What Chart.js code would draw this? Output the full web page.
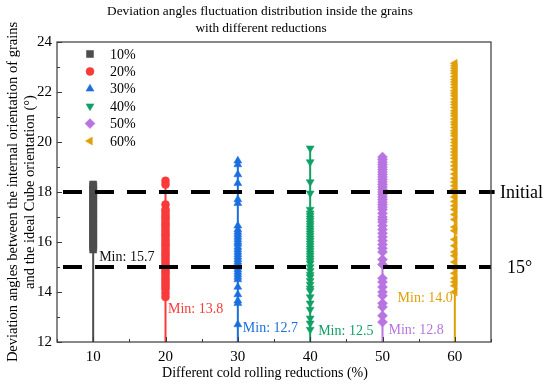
<!DOCTYPE html>
<html lang="en">
<head>
  <meta charset="UTF-8">
  <title>Deviation angles fluctuation distribution</title>
  <script src="https://cdn.jsdelivr.net/npm/chart.js"></script>
  <style>
    html, body { margin: 0; padding: 0; background: #fff; }
  </style>
</head>
<body>
  <canvas id="chart" width="550" height="386"></canvas>

  <script>
    // Cold rolling reductions (%) and the series shown at each one
    const reductions = [10, 20, 30, 40, 50, 60];
    const seriesLabels = ['10%', '20%', '30%', '40%', '50%', '60%'];

    // Deviation angles (deg), one list per reduction
    const dev10 = [18.3, 18.22, 18.1, 18.0, 17.92, 17.8, 17.7, 17.6, 17.5, 17.42, 17.3, 17.2, 17.1, 17.0,
      16.9, 16.8, 16.72, 16.6, 16.5, 16.4, 16.3, 16.2, 16.1, 16.0, 15.9, 15.8, 15.7];
    const dev20 = [18.45, 18.3, 17.5, 17.3, 17.22, 17.1, 17.0, 16.92, 16.8, 16.7, 16.62, 16.5, 16.4, 16.3,
      16.22, 16.1, 16.0, 15.9, 15.82, 15.7, 15.6, 15.5, 15.42, 15.3, 15.2, 15.1, 15.0, 14.9, 14.8, 14.72,
      14.6, 14.5, 14.4, 14.3, 14.2, 14.1, 13.95, 13.8];
    const dev30 = [19.25, 19.1, 18.7, 18.35, 17.7, 17.55, 16.65, 16.5, 16.4, 16.3, 16.2, 16.1, 16.0, 15.92,
      15.8, 15.7, 15.6, 15.5, 15.4, 15.3, 15.2, 15.1, 15.0, 14.9, 14.8, 14.7, 14.6, 14.5, 14.2, 13.9, 13.65,
      13.55, 12.7];
    const dev40 = [19.75, 19.2, 18.4, 17.95, 17.3, 17.15, 17.05, 16.95, 16.85, 16.75, 16.65, 16.55, 16.45,
      16.35, 16.25, 16.15, 16.05, 15.95, 15.85, 15.75, 15.65, 15.55, 15.45, 15.35, 15.25, 15.15, 15.0, 14.85,
      14.7, 14.6, 14.45, 14.3, 14.15, 14.05, 13.8, 13.55, 13.3, 12.95, 12.75, 12.5];
    const dev50 = [19.4, 19.3, 19.2, 19.1, 19.0, 18.9, 18.8, 18.7, 18.6, 18.5, 18.4, 18.3, 18.2, 18.1, 18.0,
      17.9, 17.8, 17.7, 17.6, 17.5, 17.4, 17.3, 17.15, 17.0, 16.9, 16.8, 16.65, 16.5, 16.35, 16.2, 16.05,
      15.9, 15.75, 15.6, 15.3, 15.1, 14.55, 14.4, 14.2, 14.0, 13.85, 13.55, 13.4, 13.05, 12.8];
    const dev60 = [23.15, 23.05, 22.95, 22.85, 22.75, 22.62, 22.5, 22.4, 22.3, 22.18, 22.05, 21.95, 21.85,
      21.72, 21.6, 21.5, 21.38, 21.25, 21.15, 21.05, 20.92, 20.8, 20.7, 20.58, 20.45, 20.35, 20.25, 20.1,
      19.98, 19.85, 19.72, 19.6, 19.48, 19.35, 19.2, 19.05, 18.9, 18.72, 18.55, 18.4, 18.25, 18.1, 17.95,
      17.8, 17.62, 17.45, 17.3, 17.1, 16.9, 16.6, 16.45, 16.1, 15.85, 15.6, 15.45, 15.2, 14.95, 14.75,
      14.55, 14.4, 14.25, 14.0];

    // Reference levels (deg)
    const initialAngle = 18;
    const thresholdAngle = 15;

    // Axis ranges and tick labels
    const xMin = 5, xMax = 65;
    const yMin = 12, yMax = 24;
    const xTickLabels = [10, 20, 30, 40, 50, 60];

    const series = [dev10, dev20, dev30, dev40, dev50, dev60];
    const colors = ['#4d4d4d', '#f83a3a', '#1a6fdf', '#10a066', '#b874e0', '#e09f08'];
    const styles = ['rect', 'circle', 'triangle', 'triangle', 'rectRot', 'triangle'];
    const rotations = [0, 0, 0, 180, 0, -90];
    const radii = [5, 4, 4.6, 4.6, 5, 4.6];

    const serif = '"Liberation Serif", "Times New Roman", serif';

    const datasets = [];

    // dashed reference lines, on top of everything
    datasets.push({
      type: 'line',
      data: [{ x: xMin, y: initialAngle }, { x: xMax + 0.5, y: initialAngle }],
      borderColor: '#000', borderWidth: 4, borderDash: [19, 13], borderDashOffset: 26,
      pointRadius: 0, clip: false, order: 0
    });
    datasets.push({
      type: 'line',
      data: [{ x: xMin, y: thresholdAngle }, { x: xMax, y: thresholdAngle }],
      borderColor: '#000', borderWidth: 4, borderDash: [19, 13], borderDashOffset: 26,
      pointRadius: 0, order: 0
    });

    series.forEach((vals, i) => {
      datasets.push({
        type: 'scatter',
        label: seriesLabels[i],
        data: vals.map(v => ({ x: reductions[i], y: v })),
        pointStyle: styles[i],
        pointRotation: rotations[i],
        pointRadius: radii[i],
        pointHoverRadius: radii[i],
        backgroundColor: colors[i],
        borderColor: colors[i],
        borderWidth: 0.5,
        order: 1
      });
      // drop line from the axis up to the largest value
      datasets.push({
        type: 'line',
        data: [{ x: reductions[i], y: yMin }, { x: reductions[i], y: Math.max(...vals) }],
        borderColor: colors[i], borderWidth: 2, pointRadius: 0, order: 2
      });
    });

    // min labels: pixel nudges from the min point
    const minLabelNudge = [
      { dx: 6, dy: 7.5, align: 'left' },
      { dx: 2.5, dy: 12, align: 'left' },
      { dx: 5, dy: 3.5, align: 'left' },
      { dx: 8, dy: 1.5, align: 'left' },
      { dx: 6, dy: 8, align: 'left' },
      { dx: -2, dy: 6, align: 'right' }
    ];

    const decorations = {
      id: 'decorations',
      afterDraw(chart) {
        const ctx = chart.ctx;
        const a = chart.chartArea;
        const xs = chart.scales.x, ys = chart.scales.y;
        ctx.save();

        // frame
        ctx.strokeStyle = '#3a3a3a';
        ctx.lineWidth = 1.2;
        ctx.strokeRect(a.left, a.top, a.right - a.left, a.bottom - a.top);

        // inward ticks
        ctx.lineWidth = 1;
        ctx.beginPath();
        for (let v = yMin; v <= yMax; v += 1) {
          const py = Math.round(ys.getPixelForValue(v)) + 0.5;
          const len = v % 2 === 0 ? 5 : 3;
          ctx.moveTo(a.left, py); ctx.lineTo(a.left + len, py);
        }
        for (let v = xMin; v <= xMax; v += 5) {
          const px = Math.round(xs.getPixelForValue(v)) + 0.5;
          const len = v % 10 === 0 ? 5 : 3;
          ctx.moveTo(px, a.bottom); ctx.lineTo(px, a.bottom - len);
        }
        ctx.stroke();

        // title
        ctx.fillStyle = '#000';
        ctx.textAlign = 'center';
        ctx.textBaseline = 'middle';
        ctx.font = '13.3px ' + serif;
        ctx.fillText('Deviation angles fluctuation distribution inside the grains', 260, 12);
        ctx.fillText('with different reductions', 261, 29);

        // x axis title
        ctx.font = '14px ' + serif;
        ctx.fillText('Different cold rolling reductions (%)', 265, 373);

        // y axis title
        ctx.save();
        ctx.translate(13, (a.top + a.bottom) / 2);
        ctx.rotate(-Math.PI / 2);
        ctx.font = '14.5px ' + serif;
        ctx.fillText('Deviation angles between the internal orientation of grains', 0, 0);
        ctx.fillText('and the ideal Cube orientation (\u00b0)', 0, 17);
        ctx.restore();

        // reference level labels
        ctx.textAlign = 'left';
        ctx.font = '18px ' + serif;
        ctx.fillText('Initial', 500, ys.getPixelForValue(initialAngle) + 1);
        ctx.fillText('15\u00b0', 507, ys.getPixelForValue(thresholdAngle) + 1);

        // min labels
        ctx.font = '14px ' + serif;
        series.forEach((vals, i) => {
          const m = Math.min(...vals);
          const n = minLabelNudge[i];
          ctx.fillStyle = i === 0 ? '#111' : colors[i];
          ctx.textAlign = n.align;
          ctx.fillText('Min: ' + m.toFixed(1), xs.getPixelForValue(reductions[i]) + n.dx, ys.getPixelForValue(m) + n.dy);
        });

        // legend inside the plot
        ctx.textAlign = 'left';
        seriesLabels.forEach((lab, i) => {
          const y = a.top + 12 + i * 17.4;
          const x = a.left + 33;
          ctx.fillStyle = colors[i];
          ctx.strokeStyle = colors[i];
          ctx.lineWidth = 0.5;
          if (Chart.helpers && Chart.helpers.drawPoint) {
            Chart.helpers.drawPoint(ctx, { pointStyle: styles[i], rotation: rotations[i], radius: radii[i], borderWidth: 0.5 }, x, y);
          } else {
            ctx.beginPath(); ctx.arc(x, y, 4, 0, Math.PI * 2); ctx.fill();
          }
          ctx.fillStyle = '#000';
          ctx.font = '14px ' + serif;
          ctx.fillText(lab, a.left + 53, y + 1);
        });

        ctx.restore();
      }
    };

    const chart = new Chart(document.getElementById('chart').getContext('2d'), {
      type: 'scatter',
      data: { datasets: datasets },
      options: {
        responsive: false,
        animation: false,
        events: [],
        layout: { padding: { top: 42, right: 59, left: 0, bottom: 0 } },
        plugins: {
          legend: { display: false },
          title: { display: false },
          tooltip: { enabled: false }
        },
        scales: {
          x: {
            type: 'linear',
            min: xMin, max: xMax,
            afterFit: s => { s.height = 44; },
            afterBuildTicks: s => { s.ticks = xTickLabels.map(v => ({ value: v })); },
            ticks: {
              autoSkip: false, maxRotation: 0, padding: 6,
              color: '#000', font: { family: serif, size: 15 }
            },
            grid: { display: false, drawTicks: false },
            border: { display: false }
          },
          y: {
            min: yMin, max: yMax,
            afterFit: s => { s.width = 57; },
            ticks: {
              stepSize: 2, padding: 5,
              color: '#000', font: { family: serif, size: 15 }
            },
            grid: { display: false, drawTicks: false },
            border: { display: false }
          }
        }
      },
      plugins: [decorations]
    });
  </script>
</body>
</html>
